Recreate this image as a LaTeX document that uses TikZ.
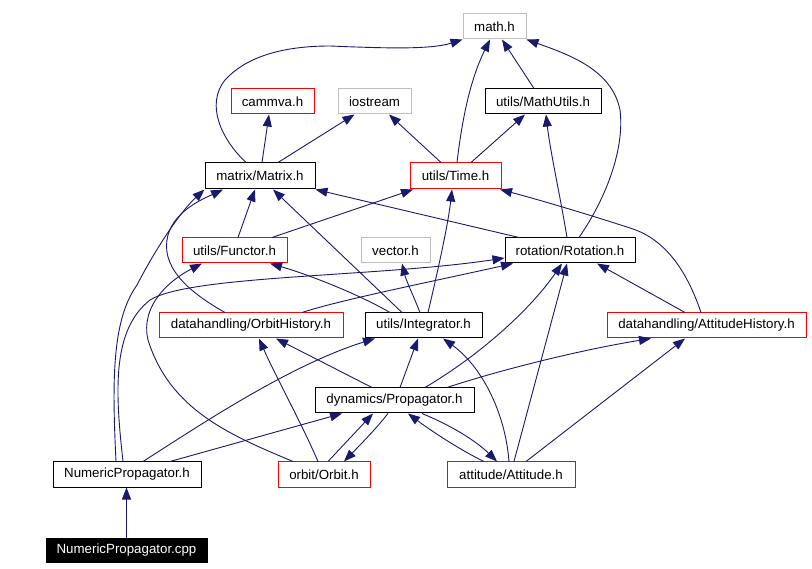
\documentclass[tikz,border=0pt]{standalone}
\usepackage{fontspec}
\setmainfont{Liberation Sans}
\usetikzlibrary{arrows.meta}
\definecolor{edgec}{HTML}{191970}
\definecolor{boxred}{HTML}{FF0000}
\definecolor{boxgray}{HTML}{BFBFBF}
\begin{document}
\begin{tikzpicture}[x=1pt,y=-1pt,
  box/.style={draw=black, fill=white, rectangle, inner sep=0pt, minimum height=25pt, line width=1pt, font=\fontsize{13.3}{16}\selectfont},
  redbox/.style={box, draw=boxred},
  graybox/.style={box, draw=boxgray},
  e/.style={draw=edgec, line width=0.9pt, -{Triangle[length=12pt,width=9pt]}, fill=none}]
\useasboundingbox (0,0) rectangle (812,569);
\fill[white] (0,0) rectangle (812,569);
% nodes
\node[graybox, minimum width=63pt] (math) at (494.5,26.5) {math.h};
\node[redbox, minimum width=83pt] (cam) at (272.5,101.5) {cammva.h};
\node[graybox, minimum width=73pt] (ios) at (374.5,101.5) {iostream};
\node[box, minimum width=116pt] (mu) at (543,101.5) {utils/MathUtils.h};
\node[box, minimum width=110pt, minimum height=26pt] (mat) at (260,176) {matrix/Matrix.h};
\node[redbox, minimum width=91pt, minimum height=26pt] (time) at (455.5,176) {utils/Time.h};
\node[redbox, minimum width=105pt] (fun) at (234.5,250.5) {utils/Functor.h};
\node[graybox, minimum width=69pt] (vec) at (395.5,250.5) {vector.h};
\node[box, minimum width=130pt] (rot) at (570,250.5) {rotation/Rotation.h};
\node[redbox, minimum width=184pt] (oh) at (251,325.5) {datahandling/OrbitHistory.h};
\node[box, minimum width=117pt] (int) at (423.5,325.5) {utils/Integrator.h};
\node[redbox, minimum width=199pt] (ah) at (706.5,325.5) {datahandling/AttitudeHistory.h};
\node[box, minimum width=159pt] (prop) at (394.5,400.5) {dynamics/Propagator.h};
\node[box, minimum width=148pt] (nph) at (127,474.5) {NumericPropagator.h};
\node[redbox, minimum width=92pt] (orb) at (324,474.5) {orbit/Orbit.h};
\node[redbox, minimum width=128pt] (att) at (511,474.5) {attitude/Attitude.h};
\node[box, fill=black, text=white, minimum width=161pt, minimum height=24pt] (cpp) at (126.5,550) {NumericPropagator.cpp};
% edges
\draw[e] (cpp.north) -- (cpp.north |- nph.south);
\draw[e] ([xshift=-11]nph.north) .. controls (112,380) and (112,320) .. (137,285) .. controls (155,250) and (180,212) .. (mat.south west);
\draw[e] ([xshift=-4]nph.north) .. controls (115,390) and (112,330) .. (150,300) .. controls (190,275) and (380,277) .. ([yshift=-7.5]rot.west);
\draw[e] ([xshift=51]oh.north) .. controls (340,300) and (430,282) .. ([xshift=-57]rot.south);
\draw[e] ([xshift=-26]oh.north) .. controls (185,290) and (160,265) .. (168,235) .. controls (175,210) and (205,198) .. ([xshift=-37]mat.south);
\draw[e] ([xshift=-31]orb.north) .. controls (230,435) and (170,410) .. (148,340) .. controls (140,305) and (170,280) .. ([xshift=-32.5]fun.south);
\draw[e] ([xshift=3.5]fun.north) -- ([xshift=-5]mat.south);
\draw[e] ([xshift=-21.5]int.north) -- ([xshift=13]mat.south);
\draw[e] ([xshift=-51]rot.north) -- (mat.south east);
\draw[e] ([xshift=2]mat.north) -- ([xshift=-3.5]cam.south);
\draw[e] ([xshift=18]mat.north) -- ([xshift=-20]ios.south);
\draw[e] ([xshift=-14]mat.north) .. controls (222,140) and (205,105) .. (225,80) .. controls (245,58) and (280,46) .. (330,46) .. controls (380,48) and (430,50) .. (math.south west);
\draw[e] ([xshift=-14.5]time.north) -- ([xshift=14.5]ios.south);
\draw[e] ([xshift=1.5]time.north) .. controls (462,120) and (470,80) .. ([xshift=-4.5]math.south);
\draw[e] ([xshift=15.5]time.north) -- ([xshift=-18]mu.south);
\draw[e] ([xshift=-9]mu.north) -- ([xshift=7.5]math.south);
\draw[e] ([xshift=-3]rot.north) .. controls (560,195) and (550,150) .. ([xshift=3]mu.south);
\draw[e] ([xshift=9]rot.north) .. controls (605,200) and (625,150) .. (620,110) .. controls (612,70) and (570,55) .. (math.south east);
\draw[e] ([xshift=37.5]fun.north) -- ([xshift=-42.5]time.south);
\draw[e] ([xshift=4.5]int.north) .. controls (438,270) and (448,225) .. ([xshift=-3.5]time.south);
\draw[e] ([xshift=-5.5]ah.north) .. controls (690,280) and (670,240) .. (630,228) .. controls (590,215) and (540,200) .. ([xshift=44.5]time.south);
\draw[e] ([xshift=-33.5]int.north) .. controls (360,295) and (310,275) .. ([xshift=35.5]fun.south);
\draw[e] ([xshift=-3.5]int.north) .. controls (413,295) and (406,280) .. ([xshift=6.5]vec.south);
\draw[e] ([xshift=30.5]prop.north) .. controls (480,355) and (530,310) .. ([xshift=-8]rot.south);
\draw[e] ([xshift=3]att.north) -- ([xshift=-3]rot.south);
\draw[e] ([xshift=-21.5]ah.north) -- ([xshift=27]rot.south);
\draw[e] ([xshift=-6]orb.north) .. controls (300,420) and (275,375) .. ([xshift=8]oh.south);
\draw[e] ([xshift=-22.5]prop.north) -- ([xshift=25]oh.south);
\draw[e] ([xshift=16]nph.north) .. controls (200,425) and (290,365) .. ([xshift=-48.5]int.south);
\draw[e] ([xshift=5.5]prop.north) -- ([xshift=-5.5]int.south);
\draw[e] ([xshift=-2]att.north) .. controls (505,410) and (480,365) .. ([xshift=19.5]int.south);
\draw[e] ([xshift=52.5]prop.north) .. controls (500,370) and (580,350) .. ([xshift=-55.5]ah.south);
\draw[e] ([xshift=15]att.north) -- ([xshift=-21.5]ah.south);
\draw[e] ([xshift=43]nph.north) -- ([xshift=-52.5]prop.south);
\draw[e] ([xshift=4]orb.north) -- ([xshift=-21.5]prop.south);
\draw[e] ([xshift=-6.5]prop.south) .. controls (375,430) and (360,445) .. ([xshift=20]orb.north);
\draw[e] ([xshift=-27]att.north) .. controls (460,450) and (430,430) .. ([xshift=13.5]prop.south);
\draw[e] ([xshift=27.5]prop.south) .. controls (450,425) and (475,440) .. ([xshift=-14]att.north);
\end{tikzpicture}
\end{document}
